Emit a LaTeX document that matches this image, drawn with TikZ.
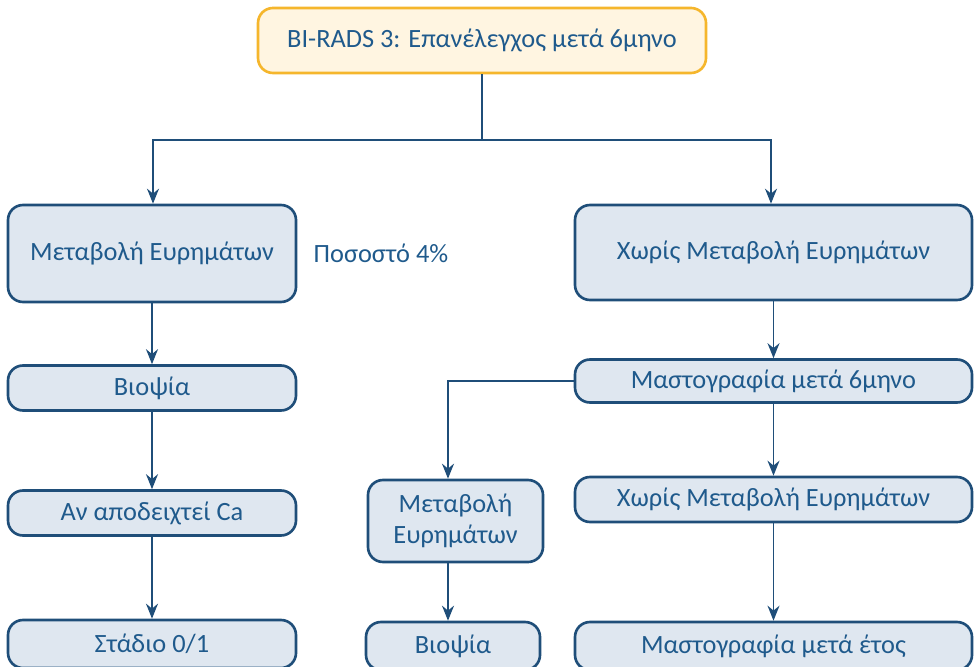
\documentclass[tikz,border=0pt]{standalone}
\usepackage{fontspec}
\setmainfont{Carlito}
\usepackage{xcolor}
\usetikzlibrary{arrows.meta}

\definecolor{navy}{HTML}{1F4E79}
\definecolor{textblue}{HTML}{1F5A8C}
\definecolor{boxfill}{HTML}{DFE7F0}
\definecolor{topfill}{HTML}{FFF5E1}
\definecolor{topline}{HTML}{F5B62C}

\tikzset{
  box/.style={draw=navy, line width=1.5pt, fill=boxfill, rounded corners=0.3cm,
    text=textblue, align=center, font=\fontsize{15}{18}\selectfont},
  topbox/.style={box, draw=topline, fill=topfill},
  link/.style={draw=navy, line width=0.9pt, -{Stealth[length=0.3cm, width=0.24cm]}},
  plain/.style={draw=navy, line width=0.9pt}
}

\begin{document}
\begin{tikzpicture}
\useasboundingbox (0,0) rectangle (19.5,-13.34);
% Nodes
\node[topbox, minimum width=8.96cm, minimum height=1.3cm] (start) at (9.64,-0.81) {BI-RADS 3: Επανέλεγχος μετά 6μηνο};

\node[box, minimum width=5.76cm, minimum height=1.94cm] (change) at (3.04,-5.07) {Μεταβολή Ευρημάτων};
\node[text=textblue, font=\fontsize{15}{18}\selectfont, anchor=west] (rate) at (6.15,-5.07) {Ποσοστό 4\%};
\node[box, minimum width=5.76cm, minimum height=0.9cm] (biopsy) at (3.04,-7.76) {Βιοψία};
\node[box, minimum width=5.76cm, minimum height=0.9cm] (ca) at (3.04,-10.26) {Αν αποδειχτεί Ca};
\node[box, minimum width=5.76cm, minimum height=0.96cm] (stage) at (3.04,-12.88) {Στάδιο 0/1};

\node[box, minimum width=7.94cm, minimum height=1.9cm] (nochange) at (15.47,-5.05) {Χωρίς Μεταβολή Ευρημάτων};
\node[box, minimum width=7.94cm, minimum height=0.86cm] (mammo) at (15.47,-7.62) {Μαστογραφία μετά 6μηνο};
\node[box, minimum width=7.94cm, minimum height=0.9cm] (nochange2) at (15.47,-9.99) {Χωρίς Μεταβολή Ευρημάτων};
\node[box, minimum width=7.94cm, minimum height=0.96cm] (mammoyear) at (15.47,-12.92) {Μαστογραφία μετά έτος};

\node[box, minimum width=3.5cm, minimum height=1.64cm, text width=3.3cm, inner sep=2pt] (change2) at (9.11,-10.42) {Μεταβολή\\Ευρημάτων};
\node[box, minimum width=3.48cm, minimum height=0.96cm] (biopsy2) at (9.06,-12.92) {Βιοψία};

\coordinate (split) at (9.64,-2.8);
\coordinate (turn) at (8.96,-7.62);

% Arrows
\draw[plain] (start) -- (split);
\draw[link] (split) -| (change.north -| 3.06,0);
\draw[link] (split) -| (nochange.north -| 15.42,0);
\draw[link] (change) -- (biopsy);
\draw[link] (biopsy) -- (ca);
\draw[link] (ca) -- (stage);
\draw[link] (nochange) -- (mammo);
\draw[link] (mammo.west) -- (turn) -- (change2.north -| turn);
\draw[link] (mammo) -- (nochange2);
\draw[link] (nochange2) -- (mammoyear);
\draw[link] (change2.south -| turn) -- (biopsy2.north -| turn);
\end{tikzpicture}
\end{document}
